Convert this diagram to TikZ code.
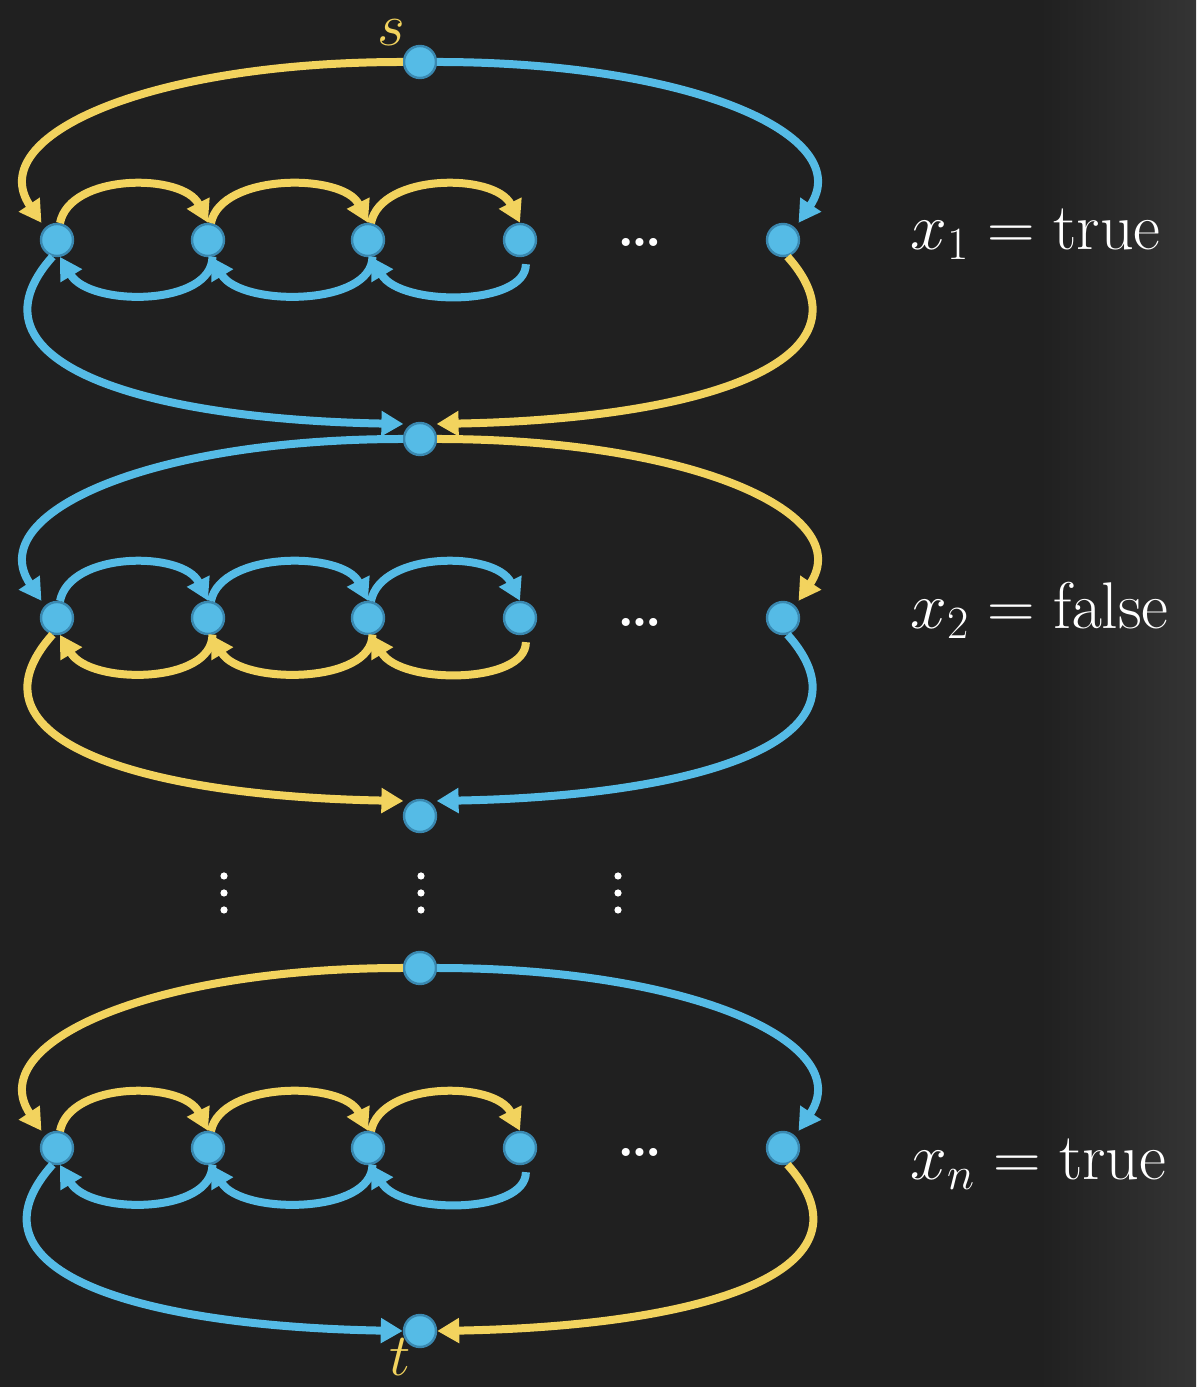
\documentclass[tikz,border=0pt]{standalone}
\usepackage{fix-cm}
\usepackage{tikz}
\usetikzlibrary{arrows.meta}
\definecolor{board}{RGB}{32,32,32}
\definecolor{boardhi}{RGB}{52,52,52}
\definecolor{yel}{RGB}{242,211,94}
\definecolor{blu}{RGB}{85,187,230}
\definecolor{bluedge}{RGB}{58,136,176}

\begin{document}
\begin{tikzpicture}[x=50pt,y=50pt,>={Triangle[length=11pt,width=12pt]},
  vtx/.style={circle,fill=blu,draw=bluedge,line width=1.2pt,minimum size=16pt,inner sep=0pt},
  edge/.style={line width=4pt,->},
  lab/.style={text=white,font=\fontsize{33}{38}\selectfont,inner sep=0pt},
  hdots/.style={text=white,font=\fontsize{28}{32}\selectfont\bfseries,inner sep=0pt}]
\useasboundingbox (0,0) rectangle (11.96,13.87);
\fill[board] (0,0) rectangle (11.96,13.87);
\shade[left color=board,right color=boardhi] (10.4,0) rectangle (11.96,13.87);
% source, sink and the nodes between the gadgets
\node[vtx] (s) at (4.20,13.25) {};
\node[vtx] (m1) at (4.20,9.48) {};
\node[vtx] (m2) at (4.20,5.71) {};
\node[vtx] (m3) at (4.20,4.19) {};
\node[vtx] (t) at (4.20,0.56) {};
% one row of nodes per variable
\foreach \r/\y in {1/11.47,2/7.69,n/2.39}{
  \node[vtx] (a\r) at (0.57,\y) {};
  \node[vtx] (b\r) at (2.08,\y) {};
  \node[vtx] (c\r) at (3.68,\y) {};
  \node[vtx] (d\r) at (5.20,\y) {};
  \node[vtx] (e\r) at (7.83,\y) {};
}
\foreach \up/\dn/\r/\ca/\cb/\la/\ra/\sh in {s/m1/1/yel/blu/120/60/4pt,m1/m2/2/blu/yel/120/60/4pt,m3/t/n/yel/blu/180/0/0pt}{
  \draw[edge,\ca,shorten >=3pt] (\up.west) .. controls +(-2.55,0) and +(-0.62,0.92) .. (a\r.north west);
  \draw[edge,\cb,shorten >=3pt] (\up.east) .. controls +(2.55,0) and +(0.62,0.92) .. (e\r.north east);
  \draw[edge,\ca] (a\r.80) .. controls +(0.1,0.5) and +(-0.25,0.5) .. (b\r.north);
  \draw[edge,\ca] (b\r.80) .. controls +(0.1,0.5) and +(-0.25,0.5) .. (c\r.north);
  \draw[edge,\ca] (c\r.80) .. controls +(0.1,0.5) and +(-0.25,0.5) .. (d\r.north);
  \draw[edge,\cb] (b\r.-75) .. controls +(0,-0.5) and +(0.3,-0.5) .. (a\r.-80);
  \draw[edge,\cb] (c\r.-75) .. controls +(0,-0.5) and +(0.3,-0.5) .. (b\r.-80);
  \draw[edge,\cb,shorten <=4pt] (d\r.-70) .. controls +(0,-0.5) and +(0.3,-0.5) .. (c\r.-80);
  \draw[edge,\cb,shorten >=\sh] (a\r.-105) .. controls +(-0.93,-1.04) and +(-2.75,0.05) .. (\dn.\la);
  \draw[edge,\ca,shorten >=\sh] (e\r.-75) .. controls +(0.93,-1.04) and +(2.75,0.05) .. (\dn.\ra);
}
\foreach \x in {2.24,4.21,6.18}{\foreach \y in {5.11,4.94,4.77}{\fill[white] (\x,\y) circle (1.8pt);}}
\node[hdots] (h1) at (6.40,11.45) {\ldots};
\node[hdots] (h2) at (6.40,7.65) {\ldots};
\node[hdots] (hn) at (6.40,2.35) {\ldots};
\node[lab,anchor=base west] (x1) at (9.10,11.37) {$x_1=\mathrm{true}$};
\node[lab,anchor=base west] (x2) at (9.10,7.58) {$x_2=\mathrm{false}$};
\node[lab,anchor=base west] (xn) at (9.10,2.07) {$x_n=\mathrm{true}$};
\node[lab,text=yel,anchor=base,font=\fontsize{30}{36}\selectfont] (sl) at (3.91,13.41) {$s$};
\node[lab,text=yel,anchor=base,font=\fontsize{30}{36}\selectfont] (tl) at (4.00,0.12) {$t$};
\end{tikzpicture}
\end{document}
